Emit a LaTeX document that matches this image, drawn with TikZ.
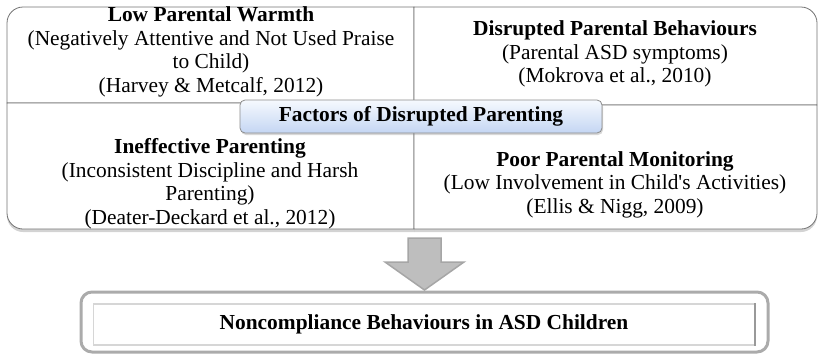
\documentclass[tikz,border=0pt]{standalone}
\usepackage{fontspec}
\setmainfont{Liberation Serif}
\usetikzlibrary{shadows}

\definecolor{tabtop}{HTML}{F6F9FE}
\definecolor{tabbot}{HTML}{C4D6F3}
\definecolor{arrowfill}{HTML}{BEBEBE}
\definecolor{arrowline}{HTML}{A6A6A6}

\tikzset{
  quad/.style={draw=black!55, fill=white, line width=0.8pt},
  quadshadow/.style={quad, drop shadow={shadow xshift=0pt, shadow yshift=-3pt, opacity=.35}},
  txt/.style={align=center, inner sep=0pt, font=\fontsize{21.4}{23.5}\selectfont},
  tab/.style={draw=black!45, line width=0.8pt, rounded corners=5pt, top color=tabtop, bottom color=tabbot,
    minimum width=362pt, minimum height=33pt, inner sep=0pt, font=\fontsize{21.4}{23.5}\selectfont\bfseries,
    drop shadow={shadow xshift=1pt, shadow yshift=-2pt, opacity=.3}},
  outerbox/.style={draw=black!33, line width=3pt, rounded corners=11pt, fill=white,
    minimum width=687pt, minimum height=60pt, inner sep=0pt},
  innerbox/.style={draw=black!16, line width=1.2pt, minimum width=661pt, minimum height=41pt, inner sep=0pt,
    font=\fontsize{21.4}{23.5}\selectfont\bfseries}
}

\begin{document}
\begin{tikzpicture}[x=1pt,y=-1pt]
\useasboundingbox (0,0) rectangle (819,354);

% the four factor quadrants
\draw[quad] (414,103) -- (7,103) -- (7,23) .. controls (7,14.2) and (14.2,7) .. (23,7) -- (414,7) -- cycle;
\draw[quad] (414,7) -- (801,7) .. controls (809.8,7) and (817,14.2) .. (817,23) -- (817,105) -- (414,105) -- cycle;
\draw[quadshadow] (7,103) -- (414,103) -- (414,229) -- (23,229) .. controls (14.2,229) and (7,221.8) .. (7,213) -- cycle;
\draw[quadshadow] (414,105) -- (817,105) -- (817,213) .. controls (817,221.8) and (809.8,229) .. (801,229) -- (414,229) -- cycle;

\node[txt] (warmth) at (211,52) {\textbf{Low Parental Warmth}\\(Negatively Attentive and Not Used Praise\\to Child)\\(Harvey \& Metcalf, 2012)};
\node[txt] (disrupted) at (615,54) {\textbf{Disrupted Parental Behaviours}\\(Parental ASD symptoms)\\(Mokrova et al., 2010)};
\node[txt] (ineffective) at (210,183.5) {\textbf{Ineffective Parenting}\\(Inconsistent Discipline and Harsh\\Parenting)\\(Deater-Deckard et al., 2012)};
\node[txt] (monitoring) at (615,184.5) {\textbf{Poor Parental Monitoring}\\(Low Involvement in Child\textquotesingle s Activities)\\(Ellis \& Nigg, 2009)};

\node[tab] (factors) at (421,116.5) {Factors of Disrupted Parenting};

% block arrow
\coordinate (arrowtop) at (424.5,238);
\draw[fill=arrowfill, draw=arrowline, line width=1.5pt, line join=miter]
  ([xshift=-16.5pt]arrowtop) -- ([xshift=16.5pt]arrowtop) -- ++(0,24) -- ++(23,0)
  -- (424.5,290) -- (385,262) -- ++(23,0) -- cycle;

\node[outerbox] (resultbox) at (424.5,322) {};
\node[innerbox] (noncomp) at (424,324.5) {Noncompliance Behaviours in ASD Children};
\draw[black!40, line width=1.5pt] (noncomp.north east) -- (noncomp.south east);

\end{tikzpicture}
\end{document}
